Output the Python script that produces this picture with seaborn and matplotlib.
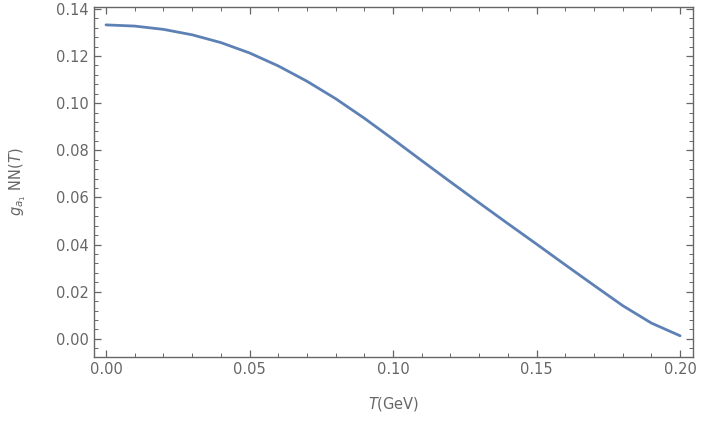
import matplotlib
matplotlib.use("Agg")
import matplotlib.pyplot as plt
import seaborn as sns
import pandas as pd
from matplotlib.ticker import MultipleLocator

T_GeV = [0.00, 0.01, 0.02, 0.03, 0.04, 0.05, 0.06, 0.07, 0.08, 0.09, 0.10,
         0.11, 0.12, 0.13, 0.14, 0.15, 0.16, 0.17, 0.18, 0.19, 0.20]
g_a1_NN = [0.1332, 0.1327, 0.1313, 0.1290, 0.1257, 0.1213, 0.1158, 0.1093,
           0.1019, 0.0936, 0.0847, 0.0756, 0.0666, 0.0577, 0.0489, 0.0402,
           0.0314, 0.0227, 0.0141, 0.0067, 0.0013]
x_ticks = [0.00, 0.05, 0.10, 0.15, 0.20]
y_ticks = [0.00, 0.02, 0.04, 0.06, 0.08, 0.10, 0.12, 0.14]

df = pd.DataFrame({"T": T_GeV, "g": g_a1_NN})

sns.set_theme(style="ticks")
plt.rcParams['font.family'] = ['DejaVu Sans']

fig = plt.figure(figsize=(7.01, 4.23), dpi=100)
ax = fig.add_axes([0.134, 0.156, 0.8546, 0.8275])
sns.lineplot(data=df, x="T", y="g", ax=ax, color="#5E81B5", linewidth=2.0)

ax.set_xlim(-0.0042, 0.2045)
ax.set_ylim(-0.0077, 0.1408)
ax.set_xticks(x_ticks)
ax.set_yticks(y_ticks)
ax.set_xticklabels([f"{v:.2f}" for v in x_ticks])
ax.set_yticklabels([f"{v:.2f}" for v in y_ticks])
ax.xaxis.set_minor_locator(MultipleLocator(0.01))
ax.yaxis.set_minor_locator(MultipleLocator(0.004))

grey = "#666666"
for s in ax.spines.values():
    s.set_visible(True)
    s.set_color("#666666")
    s.set_linewidth(1.0)
ax.tick_params(which="both", direction="in", top=True, right=True,
               colors="#666666", labelcolor=grey, labelsize=10.5)
ax.tick_params(which="major", length=5, width=0.9)
ax.tick_params(which="minor", length=3, width=0.7)

ax.set_xlabel(r"$T$(GeV)", color=grey, fontsize=10.5, labelpad=13)
ax.set_ylabel(r"$g_{a_1}$ NN($T$)", color=grey, fontsize=10.5, labelpad=20)

fig.savefig("out.png", dpi=100, facecolor="white")
